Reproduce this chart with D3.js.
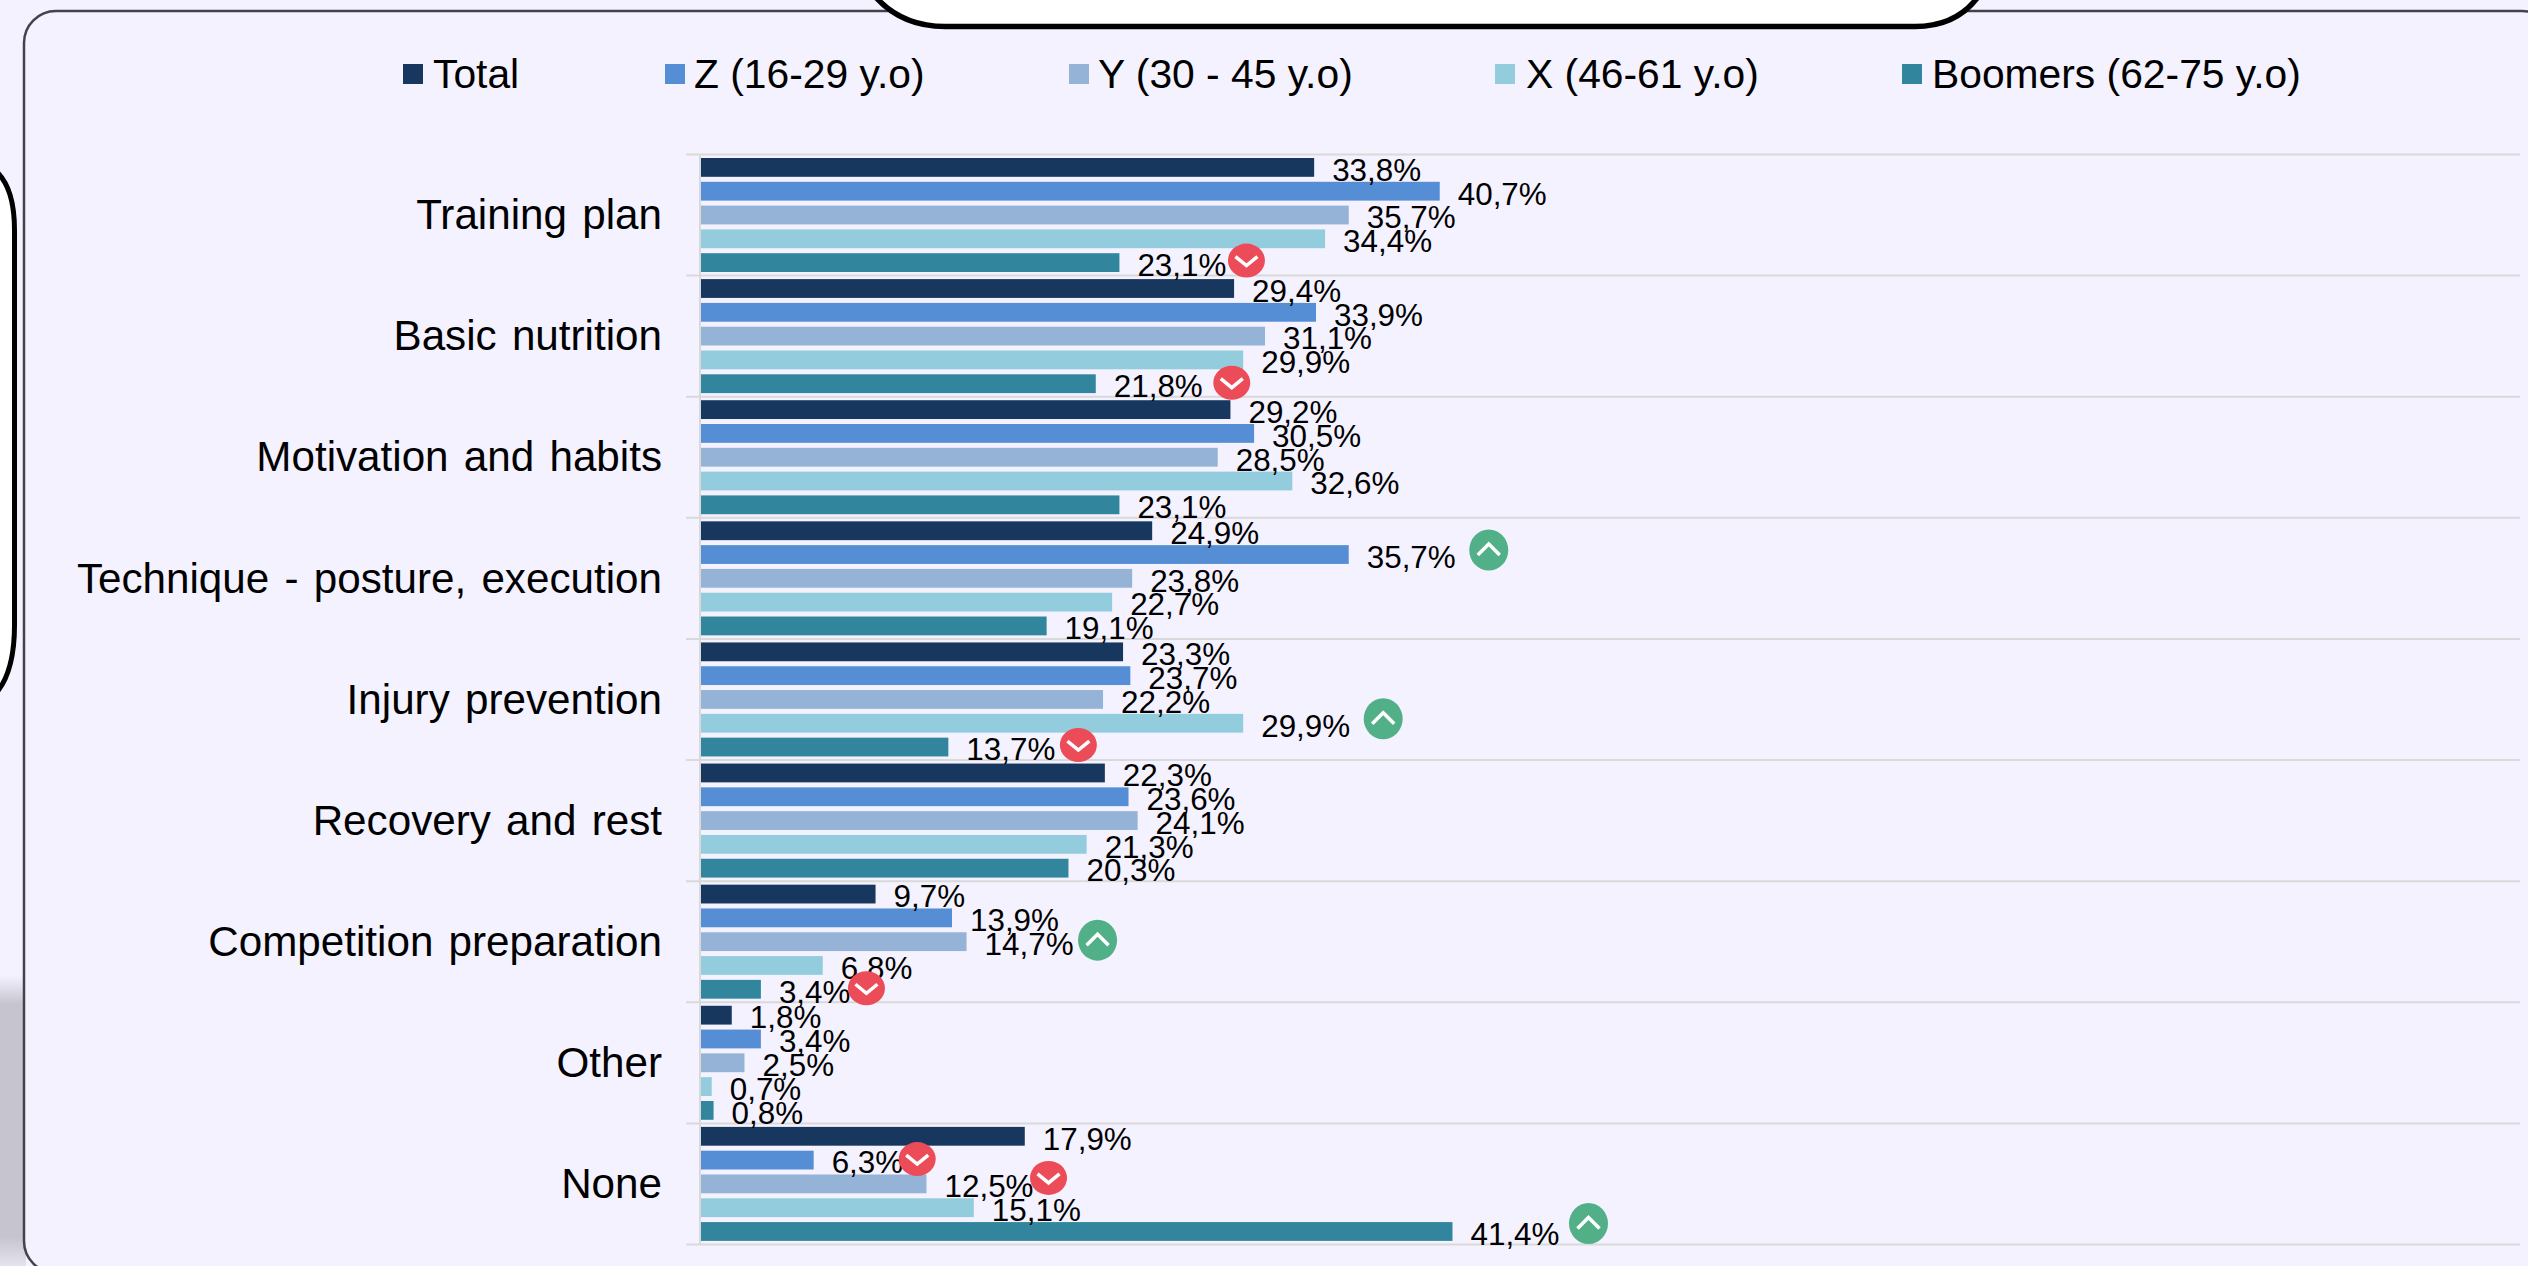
<!DOCTYPE html>
<html><head><meta charset="utf-8">
<script src="https://cdn.jsdelivr.net/npm/d3@7/dist/d3.min.js"></script>
<style>html,body{margin:0;padding:0;background:#f4f2ff;overflow:hidden}svg{display:block}text{font-family:"Liberation Sans",Arial,sans-serif;fill:#000}</style>
</head><body><svg id="c" width="2528" height="1266"></svg>
<script>
const categories=["Training plan","Basic nutrition","Motivation and habits","Technique - posture, execution","Injury prevention","Recovery and rest","Competition preparation","Other","None"];
const seriesNames=["Total","Z (16-29 y.o)","Y (30 - 45 y.o)","X (46-61 y.o)","Boomers (62-75 y.o)"];
const total=[33.8,29.4,29.2,24.9,23.3,22.3,9.7,1.8,17.9];
const genZ=[40.7,33.9,30.5,35.7,23.7,23.6,13.9,3.4,6.3];
const genY=[35.7,31.1,28.5,23.8,22.2,24.1,14.7,2.5,12.5];
const genX=[34.4,29.9,32.6,22.7,29.9,21.3,6.8,0.7,15.1];
const boomers=[23.1,21.8,23.1,19.1,13.7,20.3,3.4,0.8,41.4];
const seriesValues=[total,genZ,genY,genX,boomers];
// significance markers: [category index, series index, direction]
const flags=[[0,4,"down"],[1,4,"down"],[3,1,"up"],[4,3,"up"],[4,4,"down"],[6,2,"up"],[6,4,"down"],[8,1,"down"],[8,2,"down"],[8,4,"up"]];

const colors=["#17375e","#558ed5","#95b3d7","#93cddd","#31859c"];
const svg=d3.select("#c");
const defs=svg.append("defs");
const g=defs.append("linearGradient").attr("id","sh").attr("x1",0).attr("y1",0).attr("x2",0).attr("y2",1);
[[0,"#f4f2ff"],[0.1,"#c6c5cf"],[0.9,"#c6c5cf"],[1,"#e4e3ee"]].forEach(s=>g.append("stop").attr("offset",s[0]).attr("stop-color",s[1]));
// page decorations
svg.append("rect").attr("x",0).attr("y",975).attr("width",26).attr("height",291).attr("fill","url(#sh)");
svg.append("rect").attr("x",24).attr("y",11).attr("width",2530).attr("height",1262).attr("rx",32).attr("fill","#f4f2ff").attr("stroke","#43434b").attr("stroke-width",2.5);
svg.append("path").attr("d","M-40,160 L-30,160 Q14.5,165 14.5,230 L14.5,625 Q14.5,680 -11,700 L-40,700 Z").attr("fill","#fff").attr("stroke","#000").attr("stroke-width",5);
svg.append("path").attr("d","M873,-6 Q900,26.5 945,26.5 L1915,26.5 Q1958,26.5 1980,-6 Z").attr("fill","#fff").attr("stroke","#000").attr("stroke-width",5.5);

const x=d3.scaleLinear().domain([0,40]).range([699,699+18.2*40]);
const y=d3.scaleBand().domain(categories).range([154.5,1244.5]);
const inner=d3.scaleBand().domain(d3.range(5)).range([3.5,117.5]).paddingInner(0.21).paddingOuter(0);

// gridlines
const edges=d3.range(categories.length).map(i=>y(categories[i])).concat([y.range()[1]]);
svg.append("g").selectAll("line").data(edges).join("line")
 .attr("x1",686).attr("x2",2520).attr("y1",d=>d).attr("y2",d=>d).attr("stroke","#d9d9d9").attr("stroke-width",2);

// category axis
const ax=svg.append("g").attr("transform","translate(685,1.5)").call(d3.axisLeft(y).tickSize(0).tickPadding(23));
ax.select(".domain").remove();
ax.selectAll("text").attr("font-size",42.2).style("font-size","42.2px").style("word-spacing","3.5px").style("font-family",'"Liberation Sans",Arial,sans-serif').attr("fill","#000").attr("dy","0.3em");

// bars + labels
const labelNodes={};
seriesValues.forEach((vals,s)=>{
 const gs=svg.append("g");
 gs.selectAll("rect").data(vals).join("rect")
  .attr("x",x(0)).attr("y",(d,i)=>y(categories[i])+inner(s))
  .attr("width",d=>x(d)-x(0)).attr("height",inner.bandwidth()).attr("fill",colors[s]);
});
svg.append("line").attr("x1",x(0)+1).attr("x2",x(0)+1).attr("y1",y.range()[0]).attr("y2",y.range()[1]).attr("stroke","#d9d9d9").attr("stroke-width",2);
seriesValues.forEach((vals,s)=>{
 svg.append("g").selectAll("text").data(vals).join("text")
  .attr("x",d=>x(d)+18).attr("y",(d,i)=>y(categories[i])+inner(s)+inner.bandwidth()/2+2)
  .attr("dy","0.36em").attr("font-size",31.4)
  .text(d=>d.toFixed(1).replace(".",",")+"%")
  .each(function(d,i){labelNodes[i+"_"+s]=this;});
});

// markers, placed after the measured end of their label
const gapX=[20,29,33,33,23,24,16,14,15,29], gapY=[-2,-1,-4.5,-4.5,-2,-1.5,-1,-1,-6,-8];
flags.forEach(([c,s,dir],k)=>{
 const t=labelNodes[c+"_"+s], up=dir==="up";
 const cx=x(seriesValues[s][c])+18+t.getComputedTextLength()+gapX[k];
 const cy=y(categories[c])+inner(s)+inner.bandwidth()/2+gapY[k];
 const m=svg.append("g").attr("transform",`translate(${cx},${cy})`);
 m.append("ellipse").attr("rx",up?19.5:18.5).attr("ry",up?20.5:17).attr("fill",up?"#52b088":"#ec4c58");
 m.append("path").attr("d",up?"M-11,5 L0,-6 L11,5":"M-11,-4 L0,5 L11,-4").attr("fill","none").attr("stroke","#fff").attr("stroke-width",3.5);
});

// legend
const legendSwatch=[403,665,1069,1495,1902], legendText=[433,694,1098,1526,1932];
const lg=svg.append("g");
seriesNames.forEach((n,i)=>{
 lg.append("rect").attr("x",legendSwatch[i]).attr("y",64).attr("width",20).attr("height",20).attr("fill",colors[i]);
 lg.append("text").attr("x",legendText[i]).attr("y",88).attr("font-size",40.8).text(n);
});
</script></body></html>
